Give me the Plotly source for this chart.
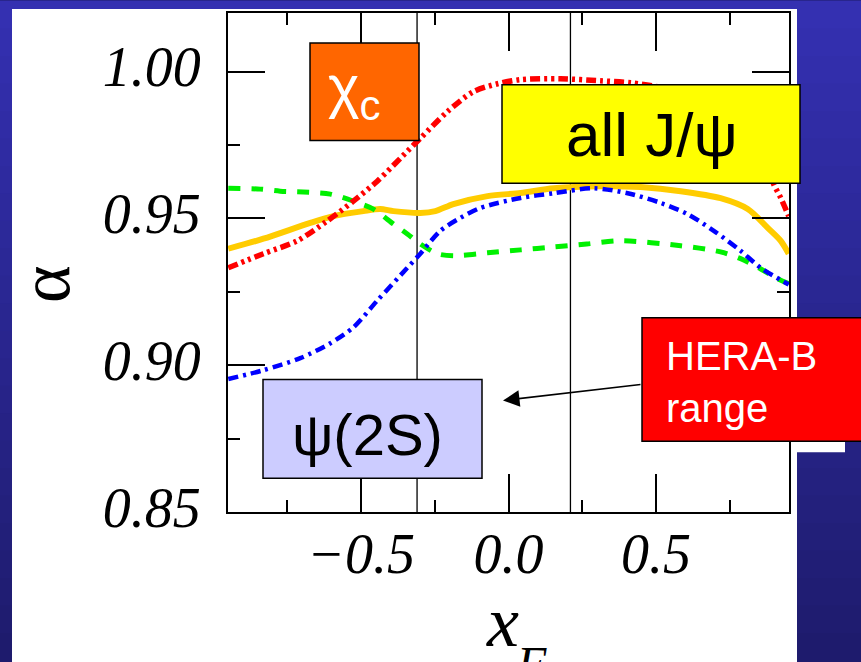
import plotly.graph_objects as go

# ---------------- data ----------------
xf_chic = [-0.95, -0.831, -0.716, -0.614, -0.526, -0.445, -0.343, -0.299, -0.207, -0.119,
           -0.037, 0.041, 0.176, 0.312, 0.414, 0.516, 0.651, 0.77, 0.855, 0.899, 0.923, 0.95]
alpha_chic = [0.9332, 0.9380, 0.9424, 0.9492, 0.9559, 0.9627, 0.9729, 0.9773, 0.9864, 0.9932,
              0.9959, 0.9973, 0.9976, 0.9969, 0.9962, 0.9946, 0.9905, 0.983, 0.9729, 0.9617, 0.957, 0.9508]

xf_all = [-0.95, -0.831, -0.672, -0.594, -0.492, -0.435, -0.390, -0.299, -0.248, -0.187, -0.071,
          0.041, 0.153, 0.312, 0.448, 0.584, 0.719, 0.811, 0.879, 0.923, 0.95]
alpha_all = [0.9397, 0.9431, 0.9485, 0.9508, 0.9525, 0.9532, 0.9525, 0.9519, 0.9525, 0.9549, 0.9576,
             0.9587, 0.9603, 0.9610, 0.9607, 0.9593, 0.9569, 0.9532, 0.9468, 0.9424, 0.938]

xf_dir = [-0.95, -0.842, -0.774, -0.696, -0.604, -0.526, -0.458, -0.390, -0.343, -0.299, -0.241,
          -0.187, -0.071, 0.041, 0.153, 0.265, 0.380, 0.584, 0.719, 0.787, 0.848, 0.906, 0.95]
alpha_dir = [0.9603, 0.9600, 0.9593, 0.9590, 0.9583, 0.9559, 0.9532, 0.9481, 0.9447, 0.9413, 0.9380,
             0.9373, 0.9383, 0.9393, 0.9403, 0.9413, 0.9424, 0.9407, 0.9386, 0.9363, 0.9332, 0.9298, 0.9278]

xf_psi2s = [-0.95, -0.831, -0.706, -0.604, -0.526, -0.445, -0.343, -0.299, -0.231, -0.163, -0.095,
            0.041, 0.153, 0.288, 0.404, 0.516, 0.607, 0.696, 0.787, 0.855, 0.95]
alpha_psi2s = [0.8953, 0.8983, 0.9024, 0.9075, 0.9129, 0.9220, 0.9332, 0.9380, 0.9458, 0.9502, 0.9536,
               0.9570, 0.9586, 0.9603, 0.9586, 0.9553, 0.9515, 0.9458, 0.9390, 0.9332, 0.9275]

hera_b_range = [-0.31, 0.21]
x_ticks = [-0.5, 0.0, 0.5]
y_ticks = [0.85, 0.90, 0.95, 1.00]

# ---------------- geometry helpers (pixels -> paper) ----------------
W, H = 861, 662
L, R, T, B = 228, 72, 11, 150
PW, PH = W - L - R, H - T - B


def px(x):
    return (x - L) / PW


def py(y):
    return (H - B - y) / PH


fig = go.Figure()

series = [
    (xf_all, alpha_all, "#FFCC00", 6, "solid", "all J/ψ"),
    (xf_dir, alpha_dir, "#00F000", 5, "12px,11px", "direct"),
    (xf_psi2s, alpha_psi2s, "#0000FF", 4.5, "10px,5px,3px,5px", "ψ(2S)"),
    (xf_chic, alpha_chic, "#FF0000", 5.5, "10px,4px,3px,4px,3px,4px", "χc"),
]
for xs, ys, col, w, dash, name in series:
    fig.add_trace(go.Scatter(x=xs, y=ys, mode="lines", name=name,
                             line=dict(color=col, width=w, dash=dash, shape="spline", smoothing=0.8),
                             showlegend=False))

shapes = []
# blue gradient background
top_rgb = (52, 48, 178)
bot_rgb = (30, 27, 108)
n = 24
for i in range(n):
    t = (i + 0.5) / n
    c = tuple(int(round(top_rgb[k] + (bot_rgb[k] - top_rgb[k]) * t)) for k in range(3))
    ya = H * i / n
    yb = H * (i + 1) / n
    shapes.append(dict(type="rect", xref="paper", yref="paper", x0=px(-5), x1=px(W + 5),
                       y0=py(yb + 1), y1=py(ya - 1), fillcolor="rgb(%d,%d,%d)" % c,
                       line=dict(width=0), layer="below"))
# white panel
shapes.append(dict(type="rect", xref="paper", yref="paper", x0=px(12), x1=px(797), y0=py(H + 5), y1=py(7),
                   fillcolor="white", line=dict(width=0), layer="below"))
shapes.append(dict(type="rect", xref="paper", yref="paper", x0=px(642), x1=px(845), y0=py(452), y1=py(320),
                   fillcolor="white", line=dict(width=0), layer="below"))
# HERA-B range lines
for xv in hera_b_range:
    shapes.append(dict(type="line", xref="x", yref="paper", x0=xv, x1=xv, y0=0, y1=1,
                       line=dict(color="black", width=1.3), layer="below"))
# label boxes
boxes = [
    (310, 419, 41, 139, "#FF6600"),
    (502, 800, 83, 182, "#FFFF00"),
    (263, 482, 379, 478, "#CCCCFF"),
    (642, 880, 317, 441, "#FF0000"),
]
for x0, x1, y0, y1, col in boxes:
    shapes.append(dict(type="rect", xref="paper", yref="paper", x0=px(x0), x1=px(x1), y0=py(y1), y1=py(y0),
                       fillcolor=col, line=dict(color="black", width=1.5), layer="above"))

ann = []
sans = "Liberation Sans, Arial, sans-serif"
serif = "Liberation Serif, Times New Roman, serif"
ann.append(dict(text="χ<sub>c</sub>", x=px(354), y=py(89), xref="paper", yref="paper", showarrow=False,
                font=dict(family=sans, size=60, color="white"), xanchor="center", yanchor="middle"))
ann.append(dict(text="all J/ψ", x=px(652), y=py(133), xref="paper", yref="paper", showarrow=False,
                font=dict(family=sans, size=62, color="black"), xanchor="center", yanchor="middle"))
ann.append(dict(text="ψ(2S)", x=px(367), y=py(434), xref="paper", yref="paper", showarrow=False,
                font=dict(family=sans, size=58, color="black"), xanchor="center", yanchor="middle"))
ann.append(dict(text="HERA-B<br>range", x=px(664), y=py(381), xref="paper", yref="paper", showarrow=False,
                align="left", font=dict(family=sans, size=40, color="white"), xanchor="left", yanchor="middle"))
# arrow
ann.append(dict(text="", x=px(503), y=py(400), xref="paper", yref="paper", showarrow=True,
                ax=139, ay=-16, arrowhead=2, arrowsize=2.2, arrowwidth=1.5, arrowcolor="black", standoff=0))
# axis titles
ann.append(dict(text="α", x=px(45), y=py(283), xref="paper", yref="paper", showarrow=False, textangle=-90,
                font=dict(family=serif, size=72, color="black"), xanchor="center", yanchor="middle"))
ann.append(dict(text="x", x=px(502), y=py(622), xref="paper", yref="paper", showarrow=False,
                font=dict(family=serif, size=72, color="black", style="italic"), xanchor="center", yanchor="middle"))
ann.append(dict(text="F", x=px(531), y=py(664), xref="paper", yref="paper", showarrow=False,
                font=dict(family=serif, size=48, color="black", style="italic"), xanchor="center", yanchor="middle"))

tickfont = dict(family=serif, size=56, color="black", style="italic")
fig.update_layout(
    width=W, height=H, autosize=False,
    margin=dict(l=L, r=R, t=T, b=B, pad=0),
    paper_bgcolor="rgb(40,37,140)", plot_bgcolor="white",
    shapes=shapes, annotations=ann, showlegend=False,
    xaxis=dict(range=[-0.951, 0.951], tickvals=x_ticks, ticktext=["−0.5", "0.0", "0.5"],
               ticks="inside", ticklen=38, tickwidth=2, tickcolor="black",
               showline=True, linewidth=2, linecolor="black", mirror="ticks",
               showgrid=False, zeroline=False, tickfont=tickfont, ticklabelstandoff=-8,
               minor=dict(ticks="inside", ticklen=12, tickwidth=2, tickcolor="black", dtick=0.25, tick0=0,
                          showgrid=False)),
    yaxis=dict(range=[0.85, 1.02], tickvals=y_ticks, ticktext=["%.2f" % v for v in y_ticks],
               ticks="inside", ticklen=37, tickwidth=2, tickcolor="black",
               showline=True, linewidth=2, linecolor="black", mirror="ticks",
               showgrid=False, zeroline=False, tickfont=tickfont, ticklabelstandoff=14,
               ticklabelshift=-5,
               minor=dict(ticks="inside", ticklen=12, tickwidth=2, tickcolor="black", dtick=0.025, tick0=0.85,
                          showgrid=False)),
)

fig.write_html("out.html")
